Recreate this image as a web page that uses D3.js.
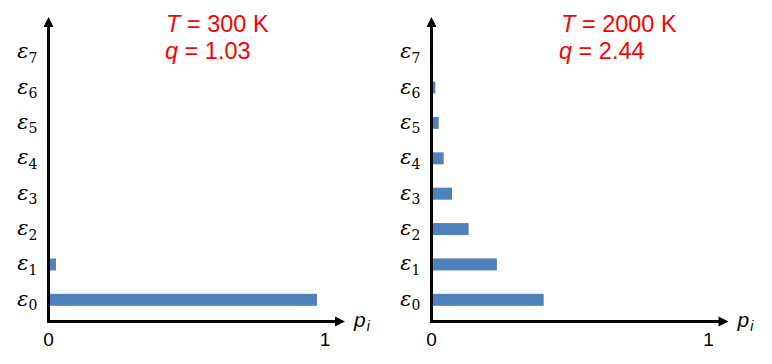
<!DOCTYPE html>
<html>
<head>
<meta charset="utf-8">
<script src="https://cdn.jsdelivr.net/npm/d3@7"></script>
<style>
  html, body { margin: 0; padding: 0; background: #fff; }
  svg { display: block; }
</style>
</head>
<body>
<svg id="chart" width="772" height="364"></svg>
<script>
// ---- data ----
const levels = ["0", "1", "2", "3", "4", "5", "6", "7"];          // subscripts of ε
const p300  = [0.971, 0.027, 0, 0, 0, 0, 0, 0];                    // T = 300 K
const p2000 = [0.405, 0.236, 0.134, 0.074, 0.044, 0.026, 0.014, 0]; // T = 2000 K
const xTicks = [0, 1];
const temps = ["300", "2000"];
const qVals = ["1.03", "2.44"];

const panels = [
  { values: p300,  temp: temps[0], q: qVals[0], x0: 48.5,  x1: 325,   titleX: 166, qX: 165 },
  { values: p2000, temp: temps[1], q: qVals[1], x0: 431.5, x1: 708.5, titleX: 561, qX: 559 }
];

const svg = d3.select("#chart");
const blue = "#4F81BD";
const red = "#FF0000";
const axisY = 321.5;
const topY = 17;

const y = d3.scaleBand()
  .domain(levels.slice().reverse())
  .range([34.5, 317.5])
  .paddingInner(0.66)
  .paddingOuter(0.33);

panels.forEach(p => {
  const g = svg.append("g");
  const x = d3.scaleLinear().domain([0, 1]).range([p.x0, p.x1]);

  // bars
  g.selectAll("rect.bar")
    .data(levels.map((l, i) => ({ l, v: p.values[i] })))
    .join("rect")
    .attr("class", "bar")
    .attr("x", x(0))
    .attr("y", d => y(d.l) + (y.bandwidth() - 12) / 2)
    .attr("width", d => Math.max(0, x(d.v) - x(0)))
    .attr("height", 12)
    .attr("fill", blue);

  // axes lines
  const tipX = x(1) + 20;
  g.append("line")
    .attr("x1", x(0)).attr("x2", tipX - 8)
    .attr("y1", axisY).attr("y2", axisY)
    .attr("stroke", "#000").attr("stroke-width", 3);
  g.append("line")
    .attr("x1", x(0)).attr("x2", x(0))
    .attr("y1", axisY + 1.5).attr("y2", topY + 8)
    .attr("stroke", "#000").attr("stroke-width", 3);
  // arrowheads
  g.append("path")
    .attr("d", `M${tipX},${axisY} L${tipX - 10},${axisY - 5} L${tipX - 10},${axisY + 5} Z`)
    .attr("fill", "#000");
  g.append("path")
    .attr("d", `M${x(0)},${topY} L${x(0) - 5},${topY + 10} L${x(0) + 5},${topY + 10} Z`)
    .attr("fill", "#000");

  // x tick labels
  g.selectAll("text.xt")
    .data(xTicks)
    .join("text")
    .attr("class", "xt")
    .attr("x", d => x(d))
    .attr("y", 346)
    .attr("text-anchor", "middle")
    .attr("font-family", "Liberation Sans, Arial, sans-serif")
    .attr("font-size", 19)
    .attr("fill", "#000")
    .text(d => d);

  // x axis title p_i
  const pt = g.append("text")
    .attr("x", tipX + 9)
    .attr("y", 327)
    .attr("font-family", "Liberation Sans, Arial, sans-serif")
    .attr("font-style", "italic")
    .attr("font-size", 21)
    .attr("fill", "#000");
  pt.append("tspan").text("p");
  pt.append("tspan").attr("font-size", 14).attr("dy", 4).attr("dx", 1).text("i");

  // y labels ε_i
  const labX = x(0) - 11;
  levels.forEach(l => {
    const cy = y(l) + y.bandwidth() / 2;
    const t = g.append("text")
      .attr("x", labX)
      .attr("y", cy + 6)
      .attr("text-anchor", "end")
      .attr("font-family", "DejaVu Serif, Liberation Serif, serif")
      .attr("font-size", 21)
      .attr("fill", "#000");
    t.append("tspan").attr("font-style", "italic").text("ε");
    t.append("tspan").attr("font-size", 14).attr("dy", 4.5).attr("dx", 0).text(l);
  });

  // titles
  const t1 = g.append("text")
    .attr("x", p.titleX).attr("y", 32)
    .attr("font-family", "Liberation Sans, Arial, sans-serif")
    .attr("font-size", 23.5)
    .attr("fill", red);
  t1.append("tspan").attr("font-style", "italic").text("T");
  t1.append("tspan").text(" = " + p.temp + " K");

  const t2 = g.append("text")
    .attr("x", p.qX).attr("y", 59)
    .attr("font-family", "Liberation Sans, Arial, sans-serif")
    .attr("font-size", 23.5)
    .attr("fill", red);
  t2.append("tspan").attr("font-style", "italic").text("q");
  t2.append("tspan").text(" = " + p.q);
});
</script>
</body>
</html>
